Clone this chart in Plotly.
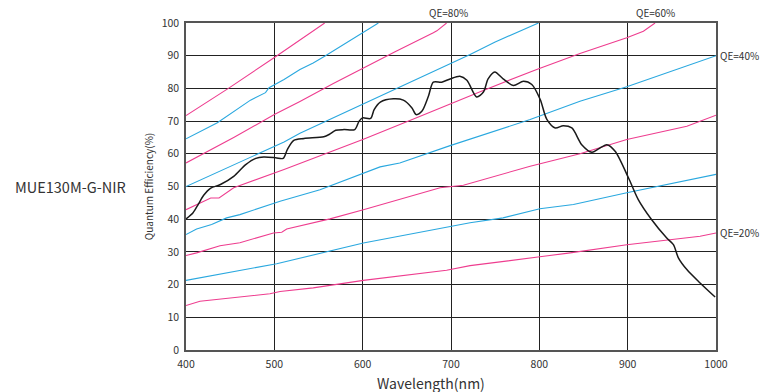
import plotly.graph_objects as go

# Black QE curve
qe_x = [400, 408, 414, 420, 428, 439, 454, 467.6, 479, 488, 501.5, 510, 514.7, 522, 533.6, 556, 562, 569.5, 579, 591, 596, 599.7, 609, 613, 620, 634.8, 646, 655.6, 660.5, 667, 674.4, 680, 689.5, 699, 710, 718, 729, 736.7, 742, 749.6, 759, 770.6, 782, 791.5, 801, 808.5, 818, 827, 836.8, 848, 859.5, 867, 876.4, 885.8, 901, 912, 927, 944, 951.8, 957.4, 967, 982, 999]
qe_y = [40.1, 42, 44.6, 47.3, 49.5, 50.6, 53.1, 56.7, 58.6, 59, 58.8, 58.6, 61.3, 64.1, 64.7, 65.2, 65.9, 67.2, 67.4, 67.4, 70, 71, 70.8, 73.5, 75.8, 76.8, 76.4, 74.1, 72, 73, 77.6, 81.9, 81.9, 82.9, 83.7, 82.5, 77.4, 78.9, 82.9, 85, 82.9, 80.9, 82.2, 81.2, 76.6, 70.5, 67.9, 68.6, 67.9, 62.8, 60.5, 61.5, 62.8, 60.8, 52.6, 46, 39.9, 34.3, 32.2, 28.2, 24.6, 20.5, 16.2]

# Reference lines (magenta / blue)
l1_x = [400, 448, 503, 557]
l1_y = [71.7, 80, 90, 100]
l2_x = [400, 435.5, 473, 490, 494, 511, 529, 544, 557.4, 578, 617.8]
l2_y = [64.6, 69.5, 76.4, 78.7, 80.2, 82.7, 85.8, 87.8, 89.9, 93.4, 100]
l3_x = [400, 435.5, 454, 500, 529, 566.8, 600, 621.6, 636.7, 680, 684, 695]
l3_y = [57.2, 62.3, 65, 72, 76, 81.5, 86.2, 89, 91.2, 97, 97.6, 100]
l4_x = [400, 511, 529, 600, 624, 700, 721.6, 750, 770.7, 799]
l4_y = [50, 63.6, 66.3, 75.1, 78.1, 87.7, 90.4, 94.2, 96.6, 100]
l5_x = [400, 428, 437.4, 454, 511, 601.6, 661, 733, 797, 846, 899, 917.8, 931]
l5_y = [42.9, 46.5, 46.5, 49.6, 55.2, 64.5, 71, 79, 85.8, 90.7, 95.5, 97.5, 100]
l6_x = [400, 412, 429, 446, 461, 506.5, 551.7, 619.7, 642, 699, 789.6, 846, 899, 1000]
l6_y = [35.3, 37, 38.4, 40.4, 41.4, 45.5, 49, 56, 57.2, 62.5, 70.5, 76.1, 80.5, 90]
l7_x = [400, 412, 438.5, 461, 499, 508.4, 514, 563, 600.8, 687.7, 714, 789.6, 846, 899, 967, 986, 1000]
l7_y = [28.9, 29.7, 31.9, 32.8, 35.8, 36, 37, 40.1, 42.9, 49.6, 50.4, 56.2, 60, 64.4, 68.4, 70.5, 71.8]
l8_x = [400, 502.7, 600.8, 699, 721.6, 759, 800.6, 838.6, 899, 1000]
l8_y = [21.3, 26.4, 32.7, 37.6, 38.9, 40.4, 43.2, 44.5, 48.1, 53.7]
l9_x = [400, 415.8, 495, 506.5, 544, 600.8, 695, 706.6, 721.6, 800.6, 834.9, 899, 982, 1000]
l9_y = [13.6, 14.9, 17.2, 17.9, 19, 21.3, 24.4, 25.1, 25.8, 28.5, 29.7, 32.2, 34.8, 35.8]

x_ticks = [400, 500, 600, 700, 800, 900, 1000]
y_ticks = [0, 10, 20, 30, 40, 50, 60, 70, 80, 90, 100]

MAG = "#EE3D8F"
BLU = "#2AA8DF"

fig = go.Figure()
for xs, ys, c in [(l1_x, l1_y, MAG), (l2_x, l2_y, BLU), (l3_x, l3_y, MAG),
                  (l4_x, l4_y, BLU), (l5_x, l5_y, MAG), (l6_x, l6_y, BLU),
                  (l7_x, l7_y, MAG), (l8_x, l8_y, BLU), (l9_x, l9_y, MAG)]:
    fig.add_trace(go.Scatter(x=xs, y=ys, mode="lines",
                             line=dict(color=c, width=1.1), hoverinfo="skip"))

fig.add_trace(go.Scatter(x=qe_x, y=qe_y, mode="lines", hoverinfo="skip",
                         line=dict(color="#1a1a1a", width=1.5, shape="spline", smoothing=0.8)))

FONT = "Noto Sans CJK SC, Noto Sans, sans-serif"
fig.update_layout(
    width=763, height=392,
    margin=dict(l=186, r=47, t=23, b=42),
    paper_bgcolor="white", plot_bgcolor="white",
    showlegend=False,
    font=dict(family=FONT, color="#333", size=11),
    xaxis=dict(range=[400, 1000], tickvals=x_ticks, showgrid=True, automargin=False,
               gridcolor="#222", gridwidth=1, showline=True, linecolor="#555",
               linewidth=1.5, mirror=True, zeroline=False, ticks="",
               ticklabelstandoff=4,
               tickfont=dict(size=10.5, color="#333")),
    yaxis=dict(range=[0, 100], tickvals=y_ticks, showgrid=True, automargin=False,
               gridcolor="#222", gridwidth=1, showline=True, linecolor="#555",
               linewidth=1.5, mirror=True, zeroline=False, ticks="",
               ticklabelstandoff=3,
               tickfont=dict(size=10.5, color="#333"),
               title=dict(text="Quantum Efficiency(%)", font=dict(size=10, color="#333"), standoff=6)),
)

fig.add_annotation(text="MUE130M-G-NIR", xref="paper", yref="paper", x=(70 - 186) / 530, y=0.5,
                   xanchor="center", yanchor="middle", showarrow=False,
                   font=dict(size=14.5, color="#333"))
fig.add_annotation(text="Wavelength(nm)", xref="paper", yref="paper", x=(431 - 186) / 530, y=0,
                   xanchor="center", yanchor="top", showarrow=False, yshift=-21,
                   font=dict(size=14, color="#333"))

for txt, xx, yy in [("QE=80%", 697, 100), ("QE=60%", 931, 100)]:
    fig.add_annotation(text=txt, x=xx, y=yy, xref="x", yref="y", showarrow=False,
                       xanchor="center", yanchor="bottom", yshift=1, font=dict(size=10, color="#333"))
for txt, yy in [("QE=40%", 90), ("QE=20%", 35.8)]:
    fig.add_annotation(text=txt, x=1000, y=yy, xref="x", yref="y", showarrow=False,
                       xanchor="left", yanchor="middle", xshift=2, font=dict(size=10, color="#333"))

fig.write_html("out.html", config={"displayModeBar": False},
               post_script="document.body.style.margin='0';")
